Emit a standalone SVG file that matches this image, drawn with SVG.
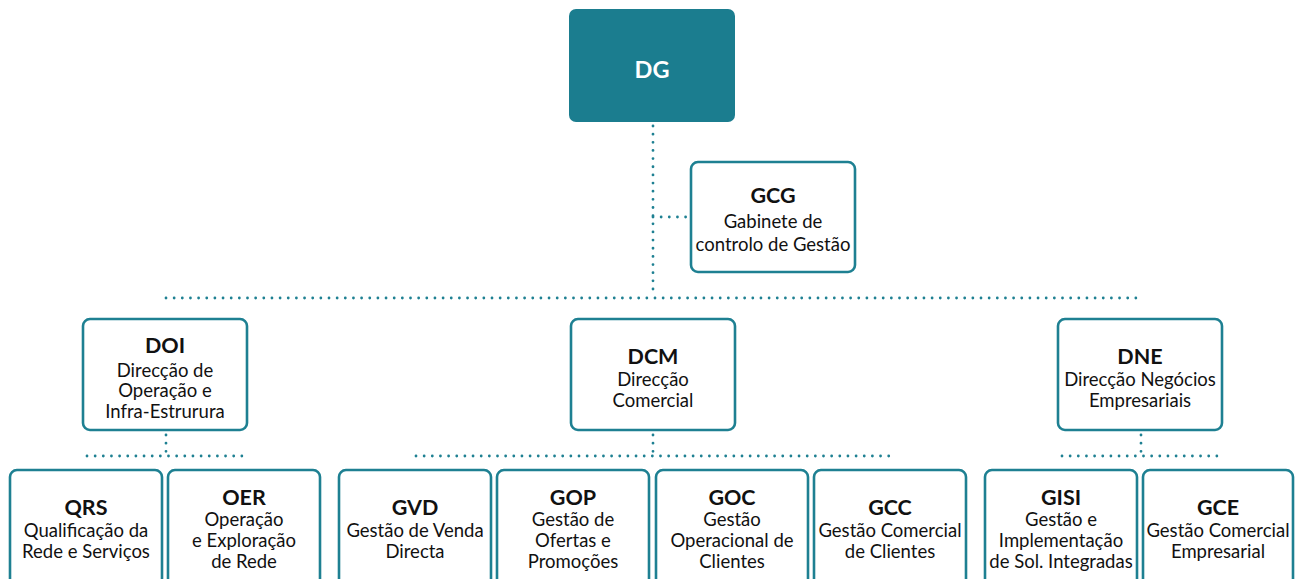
<svg xmlns="http://www.w3.org/2000/svg" width="1295" height="579" viewBox="0 0 1295 579">
<style>
.box{fill:#ffffff;stroke:#1e8092;stroke-width:2.6}
.dg{fill:#1b7d8f;stroke:none}
.dot{fill:none;stroke:#1e8092;stroke-width:2.8;stroke-linecap:round;stroke-dasharray:0 8.15}
text{font-family:Lato,"Open Sans","Liberation Sans",sans-serif;text-anchor:middle;fill:#111111}
.t{font-size:21.5px;font-weight:bold}
.b{font-size:18.5px}
.w{fill:#ffffff;font-size:23.5px;font-weight:bold}
</style>
<rect width="1295" height="579" fill="#ffffff"/>
<g id="connectors">
<path class="dot" d="M653 126 V297"/>
<path class="dot" d="M653 217 H688"/>
<path class="dot" d="M166 298 H1141"/>
<path class="dot" d="M166 435 V456"/>
<path class="dot" d="M87 456 H245"/>
<path class="dot" d="M653 435 V456"/>
<path class="dot" d="M416 456 H891"/>
<path class="dot" d="M1141 435 V456"/>
<path class="dot" d="M1062 456 H1220"/>
</g>
<g id="DG">
<rect class="dg" x="569" y="9" width="166" height="113" rx="7"/>
<text class="w" x="652" y="78">DG</text>
</g>
<g id="GCG">
<rect class="box" x="691" y="162" width="164" height="110" rx="7"/>
<text class="t" x="773" y="203">GCG</text>
<text class="b" x="773" y="228">Gabinete de</text>
<text class="b" x="773" y="251">controlo de Gestão</text>
</g>
<g id="DOI">
<rect class="box" x="83" y="319" width="164" height="111" rx="7"/>
<text class="t" x="165" y="353">DOI</text>
<text class="b" x="165" y="377">Direcção de</text>
<text class="b" x="165" y="397">Operação e</text>
<text class="b" x="165" y="418">Infra-Estrurura</text>
</g>
<g id="DCM">
<rect class="box" x="571" y="319" width="164" height="111" rx="7"/>
<text class="t" x="653" y="364">DCM</text>
<text class="b" x="653" y="386">Direcção</text>
<text class="b" x="653" y="407">Comercial</text>
</g>
<g id="DNE">
<rect class="box" x="1058" y="319" width="164" height="111" rx="7"/>
<text class="t" x="1140" y="364">DNE</text>
<text class="b" x="1140" y="386">Direcção Negócios</text>
<text class="b" x="1140" y="407">Empresariais</text>
</g>
<g id="QRS">
<rect class="box" x="10" y="470" width="152" height="130" rx="7"/>
<text class="t" x="86" y="515">QRS</text>
<text class="b" x="86" y="537">Qualificação da</text>
<text class="b" x="86" y="558">Rede e Serviços</text>
</g>
<g id="OER">
<rect class="box" x="168" y="470" width="152" height="130" rx="7"/>
<text class="t" x="244" y="505">OER</text>
<text class="b" x="244" y="526">Operação</text>
<text class="b" x="244" y="547">e Exploração</text>
<text class="b" x="244" y="568">de Rede</text>
</g>
<g id="GVD">
<rect class="box" x="339" y="470" width="152" height="130" rx="7"/>
<text class="t" x="415" y="515">GVD</text>
<text class="b" x="415" y="537">Gestão de Venda</text>
<text class="b" x="415" y="558">Directa</text>
</g>
<g id="GOP">
<rect class="box" x="497" y="470" width="152" height="130" rx="7"/>
<text class="t" x="573" y="505">GOP</text>
<text class="b" x="573" y="526">Gestão de</text>
<text class="b" x="573" y="547">Ofertas e</text>
<text class="b" x="573" y="568">Promoções</text>
</g>
<g id="GOC">
<rect class="box" x="656" y="470" width="152" height="130" rx="7"/>
<text class="t" x="732" y="505">GOC</text>
<text class="b" x="732" y="526">Gestão</text>
<text class="b" x="732" y="547">Operacional de</text>
<text class="b" x="732" y="568">Clientes</text>
</g>
<g id="GCC">
<rect class="box" x="814" y="470" width="152" height="130" rx="7"/>
<text class="t" x="890" y="515">GCC</text>
<text class="b" x="890" y="537">Gestão Comercial</text>
<text class="b" x="890" y="558">de Clientes</text>
</g>
<g id="GISI">
<rect class="box" x="985" y="470" width="152" height="130" rx="7"/>
<text class="t" x="1061" y="505">GISI</text>
<text class="b" x="1061" y="526">Gestão e</text>
<text class="b" x="1061" y="547">Implementação</text>
<text class="b" x="1061" y="568">de Sol. Integradas</text>
</g>
<g id="GCE">
<rect class="box" x="1143" y="470" width="150" height="130" rx="7"/>
<text class="t" x="1218" y="515">GCE</text>
<text class="b" x="1218" y="537">Gestão Comercial</text>
<text class="b" x="1218" y="558">Empresarial</text>
</g>
</svg>
